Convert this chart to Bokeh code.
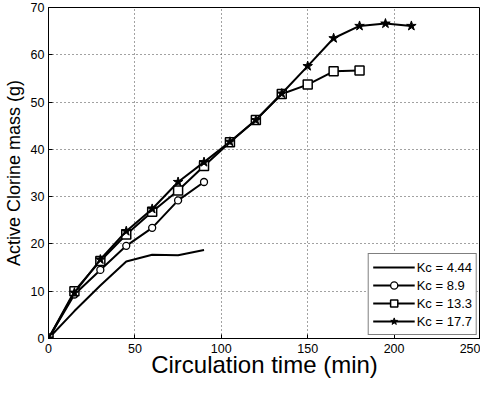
from bokeh.plotting import figure
from bokeh.models import Legend, LegendItem, FixedTicker
from bokeh.embed import file_html
from bokeh.resources import INLINE

time_a = [0, 15, 30, 45, 60, 75, 90]
kc444 = [0, 5.8, 11.2, 16.3, 17.7, 17.6, 18.7]
kc89 = [0, 9.3, 14.5, 19.6, 23.4, 29.2, 33.1]
time_b = [0, 15, 30, 45, 60, 75, 90, 105, 120, 135, 150, 165, 180]
kc133 = [0, 10.0, 16.4, 22.0, 26.8, 31.3, 36.5, 41.5, 46.2, 51.7, 53.7, 56.5, 56.7]
time_c = [0, 15, 30, 45, 60, 75, 90, 105, 120, 135, 150, 165, 180, 195, 210]
kc177 = [0, 9.7, 16.7, 22.7, 27.4, 33.1, 37.3, 41.6, 46.2, 51.8, 57.6, 63.5, 66.1, 66.6, 66.1]
x_ticks = [0, 50, 100, 150, 200, 250]
y_ticks = [0, 10, 20, 30, 40, 50, 60, 70]
labels = ["Kc = 4.44", "Kc = 8.9", "Kc = 13.3", "Kc = 17.7"]

FONT = "Liberation Sans"

p = figure(width=480, height=380, x_range=(0, 250), y_range=(0, 70),
           output_backend="svg", toolbar_location=None,
           min_border_left=40, min_border_right=0, min_border_top=7, min_border_bottom=10)

p.outline_line_color = "black"
p.outline_line_width = 1
p.background_fill_color = "white"

for ax in (p.xaxis[0], p.yaxis[0]):
    ax.major_tick_in = 4
    ax.major_tick_out = 0
    ax.minor_tick_in = 0
    ax.minor_tick_out = 0
    ax.axis_line_color = "black"
    ax.major_tick_line_color = "black"
    ax.major_label_text_font = FONT
    ax.major_label_text_font_size = "12.5px"
    ax.major_label_text_color = "black"
    ax.axis_label_text_font = FONT
    ax.axis_label_text_font_style = "normal"
    ax.axis_label_text_color = "black"

p.xaxis.ticker = FixedTicker(ticks=x_ticks)
p.yaxis.ticker = FixedTicker(ticks=y_ticks)
p.xaxis.axis_label = "Circulation time (min)"
p.yaxis.axis_label = "Active Clorine mass (g)"
p.xaxis.axis_label_text_font_size = "24px"
p.yaxis.axis_label_text_font_size = "18px"
p.xaxis.major_label_standoff = 5
p.yaxis.major_label_standoff = 4
p.xaxis.axis_label_standoff = -5
p.yaxis.axis_label_standoff = 4

p.xgrid.grid_line_color = "#444444"
p.ygrid.grid_line_color = "#444444"
p.xgrid.grid_line_dash = "1 3"
p.ygrid.grid_line_dash = "1 3"
p.xgrid.grid_line_width = 1
p.ygrid.grid_line_width = 1

lw = 2
r1 = p.line(time_a, kc444, line_color="black", line_width=lw)
r2l = p.line(time_a, kc89, line_color="black", line_width=lw)
r2m = p.scatter(time_a, kc89, marker="circle", size=7, line_color="black",
                fill_color="white", line_width=1.3)
r3l = p.line(time_b, kc133, line_color="black", line_width=lw)
r3m = p.scatter(time_b, kc133, marker="square", size=9, line_color="black",
                fill_color="white", line_width=1.5)
r4l = p.line(time_c, kc177, line_color="black", line_width=lw)
r4m = p.scatter(time_c, kc177, marker="star", size=10, line_color="black",
                fill_color="black", line_width=1)

legend = Legend(items=[
    LegendItem(label=labels[0], renderers=[r1]),
    LegendItem(label=labels[1], renderers=[r2l, r2m]),
    LegendItem(label=labels[2], renderers=[r3l, r3m]),
    LegendItem(label=labels[3], renderers=[r4l, r4m]),
], location="bottom_right")
legend.border_line_color = "black"
legend.border_line_width = 1
legend.background_fill_alpha = 1
legend.label_text_font = FONT
legend.label_text_font_size = "13px"
legend.label_text_color = "black"
legend.glyph_width = 42
legend.glyph_height = 18
legend.label_height = 18
legend.spacing = 0
legend.padding = 4
legend.margin = 3
legend.label_standoff = 2
p.add_layout(legend)

open("out.html", "w").write(file_html(p, INLINE))
